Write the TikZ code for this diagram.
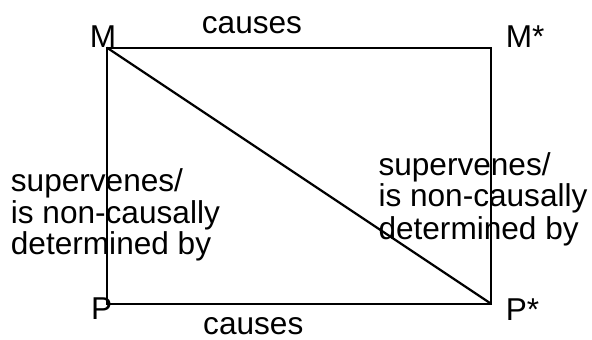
\documentclass[tikz,border=0pt]{standalone}
\usepackage{fontspec}
\setmainfont{Liberation Sans}
\begin{document}
\begin{tikzpicture}[x=1pt,y=-1pt,
  lbl/.style={inner sep=0pt,anchor=base west,font=\fontsize{31.6}{32}\selectfont},
  edge/.style={line width=2.2pt,line join=miter}]
\useasboundingbox (0,0) rectangle (592,340);
\coordinate (M) at (107,47.7);
\coordinate (Ms) at (491,47.7);
\coordinate (P) at (107,303.7);
\coordinate (Ps) at (491,303.7);
\draw[edge] (M) -- (Ms) -- (Ps) -- (P) -- cycle;
\draw[edge] (M) -- (Ps);
\node[lbl] (lM) at (89.7,47.5) {M};
\node[lbl] (lMs) at (505.7,47) {M*};
\node[lbl] (lP) at (91,319.5) {P};
\node[lbl] (lPs) at (505.6,320) {P*};
\node[lbl] (ctop) at (201.7,33) {causes};
\node[lbl] (cbot) at (203,334) {causes};
\node[lbl] (l1) at (10.7,191.7) {supervenes/};
\node[lbl] (l2) at (10.7,223.3) {is non-causally};
\node[lbl] (l3) at (10.7,254.7) {determined by};
\node[lbl] (r1) at (378.3,175) {supervenes/};
\node[lbl] (r2) at (378.3,206.8) {is non-causally};
\node[lbl] (r3) at (378.3,239.5) {determined by};
\end{tikzpicture}
\end{document}
